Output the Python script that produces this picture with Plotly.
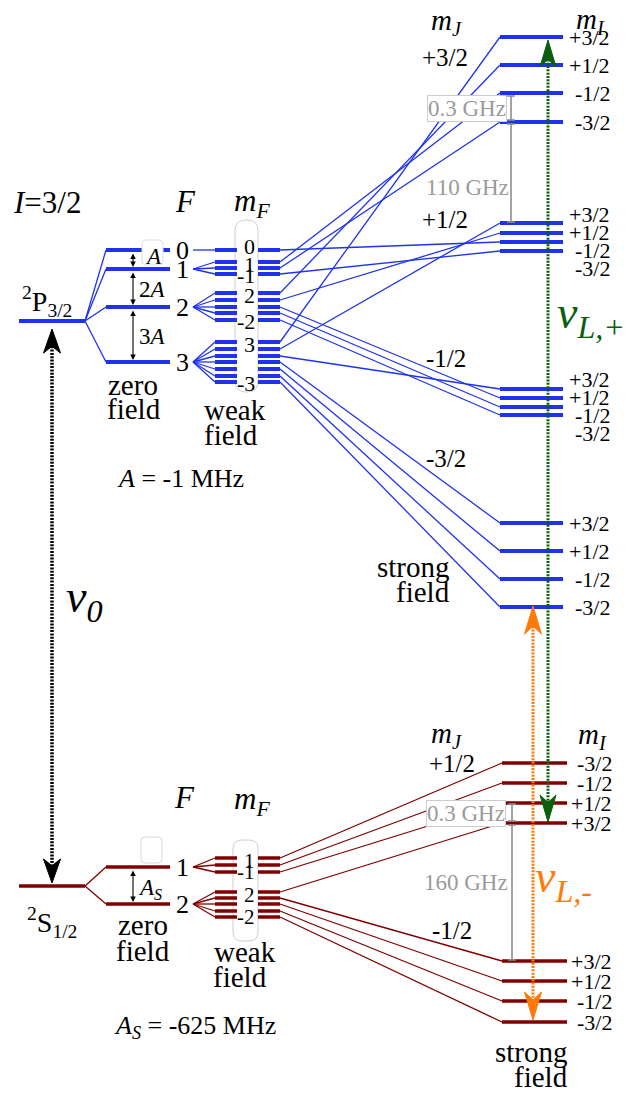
import plotly.graph_objects as go

# ======================= DATA =======================
# Upper manifold 2P3/2 (I = 3/2), level positions in diagram units (downward)
P_fine_level = 321
P_F = [0, 1, 2, 3]
P_zero_levels = [250, 269, 307, 362]
P_weak_levels = [[250], [262, 268, 274], [293, 300, 307, 313, 320],
                 [342, 349, 356, 362, 369, 376, 382]]
P_weak_top_label = ["0", "1", "2", "3"]
P_weak_bottom_label = [None, "-1", "-2", "-3"]
P_mJ = ["+3/2", "+1/2", "-1/2", "-3/2"]
P_mI = [["+3/2", "+1/2", "-1/2", "-3/2"]] * 4
P_strong_levels = [[37, 65, 93, 122], [223, 233, 242, 251],
                   [389, 398, 407, 415], [523, 551, 579, 607]]
# weak-field sublevel -> (mJ group, mI index) in strong field
P_links = [[(1, 2)],
           [(0, 2), (0, 3), (1, 3)],
           [(0, 1), (1, 1), (2, 1), (2, 2), (2, 3)],
           [(0, 0), (1, 0), (2, 0), (3, 0), (3, 1), (3, 2), (3, 3)]]
P_spacing_labels = ["<i>A</i>", "2<i>A</i>", "3<i>A</i>"]
P_gap_labels = ["0.3 GHz", "110 GHz"]
P_constant = "<i>A</i> = -1 MHz"

# Lower manifold 2S1/2
S_fine_level = 886
S_F = [1, 2]
S_zero_levels = [867, 904]
S_weak_levels = [[858, 865, 872], [892, 898, 904, 911, 917]]
S_weak_top_label = ["1", "2"]
S_weak_bottom_label = ["-1", "-2"]
S_mJ = ["+1/2", "-1/2"]
S_mI = [["-3/2", "-1/2", "+1/2", "+3/2"], ["+3/2", "+1/2", "-1/2", "-3/2"]]
S_strong_levels = [[763, 783, 803, 823], [961, 981, 1001, 1022]]
S_links = [[(0, 0), (0, 1), (0, 2)],
           [(0, 3), (1, 0), (1, 1), (1, 2), (1, 3)]]
S_spacing_labels = ["<i>A<sub>S</sub></i>"]
S_gap_labels = ["0.3 GHz", "160 GHz"]
S_constant = "<i>A<sub>S</sub></i> = -625 MHz"

# ======================= LAYOUT / STYLE =======================
W, H = 627, 1093
FONT = "Liberation Serif, serif"
BLUE = "#1f33ee"
RED = "#800000"
GREEN = "#0b5e0b"
ORANGE = "#ff7a0a"
GRAY = "#8c8c8c"
X_FINE = (19, 85)
X_ZERO = (106, 170)
X_FLABEL = 182
X_FAN = 193
X_WEAK_L = (215, 237)
X_WEAK_R = (258, 280)
X_STRONG_P = (500, 563)
X_STRONG_S = (502, 567)

fig = go.Figure()
annotations = []
shapes = []


def T(x, y, text, size, color="black", xanchor="center", **kw):
    annotations.append(dict(x=x, y=y, xref="x", yref="y", text=text, showarrow=False,
                            font=dict(family=FONT, size=size, color=color),
                            xanchor=xanchor, yanchor="middle", **kw))


def rrect(x0, y0, x1, y1, r):
    return (f"M {x0+r},{y0} L {x1-r},{y0} Q {x1},{y0} {x1},{y0+r} L {x1},{y1-r} "
            f"Q {x1},{y1} {x1-r},{y1} L {x0+r},{y1} Q {x0},{y1} {x0},{y1-r} "
            f"L {x0},{y0+r} Q {x0},{y0} {x0+r},{y0} Z")


def manifold(fine_y, zero_levels, weak_levels, strong_levels, links, xs, color, lw):
    tx, ty, kx, ky = [], [], [], []

    def thin(x0, y0, x1, y1):
        tx.extend([x0, x1, None]); ty.extend([y0, y1, None])

    def thick(x0, x1, y):
        kx.extend([x0, x1, None]); ky.extend([y, y, None])

    thick(X_FINE[0], X_FINE[1], fine_y)
    for zy, subs, lk in zip(zero_levels, weak_levels, links):
        thin(X_FINE[1], fine_y, X_ZERO[0], zy)
        thick(X_ZERO[0], X_ZERO[1], zy)
        for sy, (g, k) in zip(subs, lk):
            thin(X_FAN, zy, X_WEAK_L[0], sy)
            thick(X_WEAK_L[0], X_WEAK_L[1], sy)
            thick(X_WEAK_R[0], X_WEAK_R[1], sy)
            thin(X_WEAK_R[1], sy, xs[0], strong_levels[g][k])
    for grp in strong_levels:
        for y in grp:
            thick(xs[0], xs[1], y)
    fig.add_trace(go.Scatter(x=tx, y=ty, mode="lines", line=dict(color=color, width=1.3),
                             hoverinfo="skip", showlegend=False))
    fig.add_trace(go.Scatter(x=kx, y=ky, mode="lines", line=dict(color=color, width=lw),
                             hoverinfo="skip", showlegend=False))


# boxes (behind)
shapes.append(dict(type="path", path=rrect(235, 220, 258, 392, 11), line=dict(color="#cfcfcf", width=1),
                   fillcolor="white", layer="below", xref="x", yref="y"))
shapes.append(dict(type="path", path=rrect(233, 840, 258, 941, 9), line=dict(color="#cfcfcf", width=1),
                   fillcolor="white", layer="below", xref="x", yref="y"))
shapes.append(dict(type="path", path=rrect(141, 837, 162, 863, 4), line=dict(color="#d8d8d8", width=1),
                   fillcolor="white", layer="below", xref="x", yref="y"))

manifold(P_fine_level, P_zero_levels, P_weak_levels, P_strong_levels, P_links, X_STRONG_P, BLUE, 4)
manifold(S_fine_level, S_zero_levels, S_weak_levels, S_strong_levels, S_links, X_STRONG_S, RED, 3.5)

# box over F=0 line for the "A" label
shapes.append(dict(type="path", path=rrect(142, 240, 163, 265, 4), line=dict(color="#dddddd", width=1),
                   fillcolor="white", layer="above", xref="x", yref="y"))

# ---- gray spacing bars ----
def gray_bar(x, y0, y1):
    gx = [x, x, None, x - 4, x + 4, None, x - 4, x + 4, None]
    gy = [y0, y1, None, y0, y0, None, y1, y1, None]
    fig.add_trace(go.Scatter(x=gx, y=gy, mode="lines", line=dict(color=GRAY, width=1.6),
                             hoverinfo="skip", showlegend=False))

gray_bar(511, P_strong_levels[0][2] + 3, P_strong_levels[0][3] - 2)
gray_bar(511, P_strong_levels[0][3] + 2, P_strong_levels[1][0] - 1)
gray_bar(512, S_strong_levels[0][2] + 1, S_strong_levels[0][3] - 2)
gray_bar(512, S_strong_levels[0][3] + 2, S_strong_levels[1][0] - 1)

T(467, (P_strong_levels[0][2] + P_strong_levels[0][3]) / 2 + 1, P_gap_labels[0], 23, "#9a9a9a",
  bgcolor="white", bordercolor="#cccccc", borderwidth=1, borderpad=0)
T(467, 187, P_gap_labels[1], 23, "#9a9a9a")
T(466, (S_strong_levels[0][2] + S_strong_levels[0][3]) / 2, S_gap_labels[0], 23, "#9a9a9a",
  bgcolor="white", bordercolor="#cccccc", borderwidth=1, borderpad=0)
T(466, 882, S_gap_labels[1], 23, "#9a9a9a")

# ---- dotted transition arrows ----
def dotted_arrow(x, y_low_tip, y_high_tip, color, L, w, width):
    # y axis is downward: y_high_tip < y_low_tip
    notch = 0.72 * L
    fig.add_trace(go.Scatter(x=[x, x], y=[y_high_tip + notch, y_low_tip - notch], mode="lines",
                             line=dict(color=color, width=width, dash="2px,1.3px"),
                             hoverinfo="skip", showlegend=False))
    for tip, d in ((y_low_tip, 1), (y_high_tip, -1)):
        px = [x, x - w, x, x + w, x]
        py = [tip, tip - d * L, tip - d * notch, tip - d * L, tip]
        fig.add_trace(go.Scatter(x=px, y=py, mode="lines", fill="toself", fillcolor=color,
                                 line=dict(color=color, width=1), hoverinfo="skip", showlegend=False))

dotted_arrow(52, S_fine_level - 3, P_fine_level + 8, "black", 24, 8.5, 3.5)
dotted_arrow(548, S_strong_levels[0][3] - 1, P_strong_levels[0][0] + 3, GREEN, 27, 8, 3)
dotted_arrow(533, S_strong_levels[1][3] - 2, P_strong_levels[3][3] - 1, ORANGE, 28, 8.5, 3)

# ---- hyperfine spacing double arrows ----
def dbl_arrow(x, y0, y1):
    annotations.append(dict(x=x, y=y1, ax=x, ay=y0, xref="x", yref="y", axref="x", ayref="y",
                            text="", showarrow=True, arrowhead=2, arrowside="end+start",
                            arrowsize=1, arrowwidth=1.1, arrowcolor="black",
                            standoff=0, startstandoff=0))

spacing_label_pos = [(153, 256), (152, 289), (152, 336)]
for i, lab in enumerate(P_spacing_labels):
    dbl_arrow(133, P_zero_levels[i] + 2, P_zero_levels[i + 1] - 2)
    T(spacing_label_pos[i][0], spacing_label_pos[i][1], lab, 23)
dbl_arrow(133, S_zero_levels[0] + 2, S_zero_levels[1] - 2)
T(150, 889, S_spacing_labels[0], 23)

# ---- F labels, mF labels ----
for F, zy in zip(P_F, P_zero_levels):
    T(X_FLABEL, zy, str(F), 26)
for F, zy in zip(S_F, S_zero_levels):
    T(X_FLABEL, zy, str(F), 26)

for subs, top, bot in zip(P_weak_levels, P_weak_top_label, P_weak_bottom_label):
    if bot is None:
        T(257, subs[0] - 4, top, 22, xanchor="right")
    else:
        T(257, subs[0] + 2, top, 22, xanchor="right")
        T(257, subs[-1] + 1, bot, 22, xanchor="right")
for subs, top, bot in zip(S_weak_levels, S_weak_top_label, S_weak_bottom_label):
    T(257, subs[0] + 3, top, 21, xanchor="right")
    T(257, subs[-1], bot, 21, xanchor="right")

# ---- mI labels ----
def mI_labels(levels, labels, xr):
    for grp, labs in zip(levels, labels):
        sp = grp[1] - grp[0]
        if sp >= 18:
            ys = grp
        else:
            c = (grp[0] + grp[-1]) / 2 + 4
            ys = [c + (i - 1.5) * 18 for i in range(4)]
        for y, lab in zip(ys, labs):
            T(xr, y, lab, 22, xanchor="right")

mI_labels(P_strong_levels, P_mI, 612)
mI_labels(S_strong_levels, S_mI, 614)

# ---- mJ labels ----
for lab, (x, y) in zip(P_mJ, [(445, 57), (445, 219), (446, 358), (446, 458)]):
    T(x, y, lab, 25)
for lab, (x, y) in zip(S_mJ, [(452, 763), (452, 930)]):
    T(x, y, lab, 25)

# ---- headers and other text ----
T(47, 202, "<i>I</i>=3/2", 31)
T(185, 201, "<i>F</i>", 31)
T(252, 203, "<i>m</i><sub><i>F</i></sub>", 31)
T(446, 22, "<i>m</i><sub><i>J</i></sub>", 29)
T(590, 21, "<i>m</i><sub><i>I</i></sub>", 29)
T(47, 301, "<sup>2</sup>P<sub>3/2</sub>", 28)
T(133, 385, "zero", 29)
T(134, 409, "field", 29)
T(235, 410, "weak", 29)
T(231, 435, "field", 29)
T(180, 478, P_constant, 26)
T(452, 567, "strong", 29, xanchor="right")
T(452, 592, "field", 29, xanchor="right")
T(64, 600, "<i>ν</i><sub><i>0</i></sub>", 46, xanchor="left")
T(555, 316, "<i>ν</i><sub><i>L,+</i></sub>", 46, GREEN, xanchor="left")

T(184, 797, "<i>F</i>", 31)
T(252, 801, "<i>m</i><sub><i>F</i></sub>", 31)
T(446, 735, "<i>m</i><sub><i>J</i></sub>", 29)
T(592, 736, "<i>m</i><sub><i>I</i></sub>", 29)
T(52, 922, "<sup>2</sup>S<sub>1/2</sub>", 28)
T(143, 925, "zero", 29)
T(143, 951, "field", 29)
T(245, 952, "weak", 29)
T(240, 977, "field", 29)
T(195, 1027, S_constant, 26)
T(570, 1052, "strong", 29, xanchor="right")
T(570, 1077, "field", 29, xanchor="right")
T(533, 880, "<i>ν</i><sub><i>L,-</i></sub>", 46, ORANGE, xanchor="left")

fig.update_layout(
    width=W, height=H, autosize=False,
    margin=dict(l=0, r=0, t=0, b=0, pad=0),
    paper_bgcolor="white", plot_bgcolor="white",
    xaxis=dict(range=[0, W], visible=False, fixedrange=True),
    yaxis=dict(range=[H, 0], visible=False, fixedrange=True),
    annotations=annotations, shapes=shapes, showlegend=False,
)
fig.write_html("out.html", config={"displayModeBar": False})
